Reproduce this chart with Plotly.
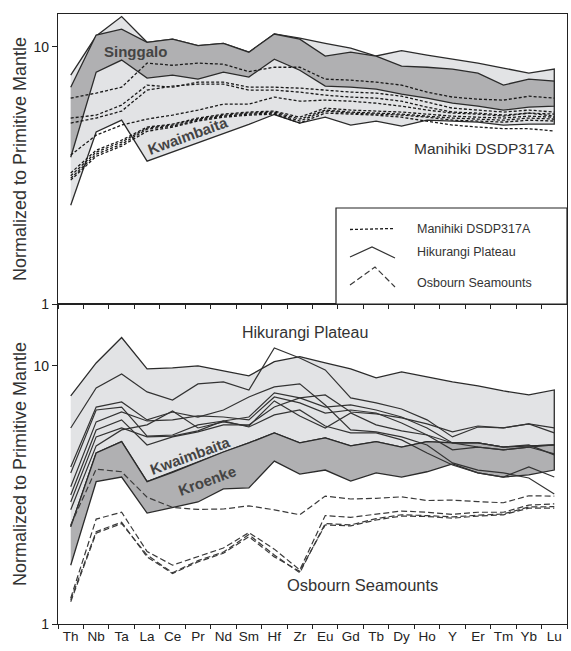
import plotly.graph_objects as go

elements = ["Th", "Nb", "Ta", "La", "Ce", "Pr", "Nd", "Sm", "Hf", "Zr",
            "Eu", "Gd", "Tb", "Dy", "Ho", "Y", "Er", "Tm", "Yb", "Lu"]

# ---------------- top panel (Manihiki) ----------------
top_field_upper = [7.75, 11.0, 13.1, 10.4, 10.7, 10.1, 10.3, 9.52, 11.2, 10.8,
                   10.3, 9.87, 9.2, 9.65, 9.27, 8.94, 8.63, 8.26, 7.89, 8.18]
top_field_lower = [2.42, 4.66, 5.18, 3.59, 3.90, 4.23, 4.59, 4.99, 5.45, 5.05,
                   5.32, 4.96, 5.14, 4.91, 5.18, 5.14, 5.09, 4.96, 5.0, 5.0]
singgalo_upper = [6.96, 11.1, 11.7, 10.4, 10.7, 10.1, 10.3, 9.52, 11.2, 10.7,
                  9.19, 9.52, 9.19, 8.40, 8.32, 8.18, 7.89, 7.09, 7.48, 7.35]
singgalo_lower = [3.72, 7.96, 8.87, 7.55, 7.75, 7.48, 7.96, 7.62, 8.94, 8.1,
                  7.03, 6.96, 6.84, 6.54, 6.31, 6.03, 5.87, 5.67, 5.82, 5.87]

manihiki_1 = [6.31, 6.60, 6.96, 8.63, 8.47, 8.63, 8.55, 8.0, 8.32, 8.32,
              7.48, 7.41, 7.28, 7.09, 6.66, 6.37, 6.25, 6.20, 6.42, 6.31]
manihiki_2 = [5.28, 5.42, 5.93, 7.09, 6.96, 7.28, 7.28, 6.96, 6.96, 6.90,
              6.78, 6.66, 6.60, 6.42, 6.09, 5.77, 5.67, 5.57, 5.67, 5.57]
manihiki_3 = [5.05, 5.28, 5.62, 6.78, 7.03, 7.15, 7.15, 6.78, 6.78, 6.66,
              6.48, 6.37, 6.31, 6.14, 5.82, 5.57, 5.52, 5.42, 5.52, 5.37]
manihiki_4 = [3.79, 4.53, 4.96, 5.23, 5.42, 5.67, 5.98, 5.98, 6.37, 6.14,
              6.20, 6.14, 6.03, 5.87, 5.67, 5.52, 5.47, 5.37, 5.52, 5.47]
manihiki_5 = [3.23, 3.96, 4.33, 4.87, 5.0, 5.28, 5.47, 5.57, 5.62, 5.32,
              5.77, 5.67, 5.62, 5.57, 5.47, 5.37, 5.32, 5.28, 5.37, 5.32]
manihiki_6 = [3.15, 3.89, 4.26, 4.83, 4.96, 5.23, 5.42, 5.52, 5.57, 5.23,
              5.67, 5.57, 5.52, 5.47, 5.37, 5.28, 5.23, 5.18, 5.28, 5.23]
manihiki_7 = [3.08, 3.82, 4.18, 4.78, 4.91, 5.18, 5.37, 5.47, 5.52, 5.14,
              5.62, 5.52, 5.47, 5.42, 5.32, 5.18, 5.14, 5.09, 5.18, 5.14]
manihiki_8 = [3.03, 3.75, 4.11, 4.69, 4.87, 5.14, 5.32, 5.42, 5.47, 5.05,
              5.52, 5.47, 5.42, 5.32, 5.14, 4.96, 4.87, 4.80, 4.80, 4.70]

# ---------------- bottom panel (Hikurangi / Osbourn) ----------------
bot_field_upper = [7.65, 10.27, 12.88, 9.74, 9.82, 10.0, 9.56, 9.15, 10.39, 10.87,
                   10.27, 9.74, 8.99, 9.48, 9.07, 8.67, 8.37, 8.0, 7.72, 8.07]
kwaimbaita_line = [2.38, 4.60, 5.09, 3.56, 3.87, 4.24, 4.64, 5.03, 5.50, 5.03,
                   5.26, 4.90, 5.09, 4.85, 5.09, 5.03, 5.03, 4.85, 4.90, 4.94]
kroenke_lower = [1.69, 3.56, 3.71, 2.69, 2.82, 2.97, 3.34, 3.37, 4.28, 3.81,
                 3.95, 3.58, 3.85, 3.71, 3.89, 4.17, 3.85, 3.71, 3.78, 3.95]

hikurangi_1 = [4.06, 6.93, 7.25, 6.18, 6.63, 6.34, 6.75, 7.58, 8.29, 8.52,
               7.06, 5.65, 5.55, 5.31, 4.94, 4.21, 3.95, 3.85, 3.68, 3.19]
hikurangi_2 = [5.75, 8.22, 9.31, 7.93, 7.38, 8.52, 8.67, 8.07, 11.74, 10.74,
               9.65, 7.52, 7.19, 6.81, 6.18, 5.31, 5.80, 5.75, 5.96, 5.50]
hikurangi_3 = [3.85, 6.75, 6.93, 5.35, 5.40, 5.91, 6.12, 6.34, 7.86, 7.52,
               6.93, 7.06, 6.75, 6.34, 5.75, 5.03, 5.03, 4.85, 4.94, 4.52]
hikurangi_4 = [3.40, 6.07, 6.63, 6.12, 6.18, 6.40, 6.34, 6.18, 7.58, 7.19,
               6.57, 6.75, 6.57, 6.01, 5.40, 4.73, 4.85, 4.73, 4.85, 4.56]
hikurangi_5 = [3.16, 5.65, 6.18, 4.94, 5.31, 5.55, 5.91, 5.91, 6.93, 7.52,
               7.72, 6.63, 6.52, 6.29, 5.96, 5.55, 5.85, 5.75, 5.96, 5.75]
hikurangi_6 = [2.97, 5.31, 5.75, 5.31, 5.35, 5.60, 6.12, 5.80, 6.46, 6.75,
               5.85, 5.50, 5.50, 5.17, 4.60, 4.13, 3.85, 3.71, 4.06, 3.71]
hikurangi_7 = [2.77, 4.90, 5.65, 5.91, 6.69, 5.75, 6.07, 5.85, 7.32, 6.40,
               5.75, 6.57, 5.91, 5.60, 5.40, 5.03, 4.85, 4.73, 4.85, 4.94]

osbourn_1 = [2.42, 3.98, 3.89, 3.10, 2.83, 2.78, 2.79, 2.87, 2.77, 2.65,
             3.13, 3.05, 3.07, 3.11, 3.01, 3.02, 2.98, 2.95, 3.14, 3.13]
osbourn_2 = [1.26, 2.55, 2.71, 1.91, 1.69, 1.82, 1.97, 2.26, 1.95, 1.62,
             2.63, 2.59, 2.67, 2.74, 2.71, 2.66, 2.71, 2.71, 2.89, 2.92]
osbourn_3 = [1.24, 2.28, 2.48, 1.82, 1.57, 1.74, 1.88, 2.18, 1.82, 1.60,
             2.42, 2.40, 2.53, 2.62, 2.61, 2.57, 2.62, 2.65, 2.81, 2.81]
osbourn_4 = [1.22, 2.25, 2.45, 1.85, 1.58, 1.76, 1.90, 2.22, 1.85, 1.58,
             2.45, 2.42, 2.56, 2.65, 2.63, 2.60, 2.64, 2.67, 2.84, 2.85]

y_ticks = [1, 10]
y_title = "Normalized to Primitive Mantle"

LIGHT = "#e2e3e5"
DARK = "#b0b0b2"
LINE = "#2b2b2b"
FONT = "Liberation Sans, Arial, sans-serif"

fig = go.Figure()


def field(upper, lower, color, xa, ya):
    fig.add_trace(go.Scatter(
        x=elements + elements[::-1], y=upper + lower[::-1],
        mode="lines", fill="toself", fillcolor=color,
        line=dict(color=LINE, width=1.3), xaxis=xa, yaxis=ya,
        hoverinfo="skip", showlegend=False))


def line(vals, dash, xa, ya, width=1.2, color=LINE):
    fig.add_trace(go.Scatter(
        x=elements, y=vals, mode="lines",
        line=dict(color=color, width=width, dash=dash),
        xaxis=xa, yaxis=ya, showlegend=False))


# top panel
field(top_field_upper, top_field_lower, LIGHT, "x", "y")
field(singgalo_upper, singgalo_lower, DARK, "x", "y")
for m in [manihiki_1, manihiki_2, manihiki_3, manihiki_4,
          manihiki_5, manihiki_6, manihiki_7, manihiki_8]:
    line(m, "3px,2px", "x", "y", width=1.3, color="#1a1a1a")

# bottom panel
field(bot_field_upper, kwaimbaita_line, LIGHT, "x2", "y2")
field(kwaimbaita_line, kroenke_lower, DARK, "x2", "y2")
for h in [hikurangi_1, hikurangi_2, hikurangi_3, hikurangi_4,
          hikurangi_5, hikurangi_6, hikurangi_7]:
    line(h, "solid", "x2", "y2", width=1.2, color="#333333")
for o in [osbourn_1, osbourn_2, osbourn_3, osbourn_4]:
    line(o, "6px,3px", "x2", "y2", width=1.2, color="#3a3a3a")

split = 320 / 610.0

xaxis_common = dict(
    type="category", categoryorder="array", categoryarray=elements,
    range=[-0.5, 19.5], tickson="boundaries", ticks="outside", ticklen=4,
    tickwidth=1.2, tickcolor="#222", showline=True, linecolor="#222",
    linewidth=1.4, mirror=True, showgrid=False, zeroline=False,
    tickangle=0,
    tickfont=dict(family=FONT, size=13.5, color="#222"))
yaxis_common = dict(
    type="log", tickvals=y_ticks, ticktext=[str(t) for t in y_ticks],
    ticks="outside", ticklen=5, tickwidth=1.2, tickcolor="#222",
    showline=True, linecolor="#222", linewidth=1.4, mirror=True,
    showgrid=False, zeroline=False,
    tickfont=dict(family=FONT, size=14, color="#222"))

fig.update_layout(
    width=571, height=651,
    margin=dict(l=58, r=4, t=14, b=27),
    paper_bgcolor="white", plot_bgcolor="white",
    xaxis=dict(xaxis_common, anchor="y", showticklabels=False),
    yaxis=dict(yaxis_common, domain=[split, 1], range=[0, 1.127], anchor="x"),
    xaxis2=dict(xaxis_common, anchor="y2"),
    yaxis2=dict(yaxis_common, domain=[0, split], range=[0, 1.240], anchor="x2"),
    font=dict(family=FONT),
)


def px_x(px):
    return (px - 58) / 509.0


def px_y(py):
    return (624 - py) / 610.0


ann = []


def text(s, cx, cy, size, bold=False, angle=0, color="#333", xanchor="center"):
    ann.append(dict(
        text=("<b>%s</b>" % s) if bold else s, x=px_x(cx), y=px_y(cy),
        xref="paper", yref="paper", showarrow=False, textangle=angle,
        xanchor=xanchor, yanchor="middle",
        font=dict(family=FONT, size=size, color=color)))


text(y_title, 20, 159, 18, angle=-90, color="#333")
text(y_title, 20, 464, 18, angle=-90, color="#333")
text("Singgalo", 135, 51, 15, bold=True, color="#444")
text("Kwaimbaita", 188, 136, 15, bold=True, angle=-20, color="#444")
text("Manihiki DSDP317A", 484, 148, 15.5, color="#333")
text("Hikurangi Plateau", 305, 333, 16, color="#333")
text("Kwaimbaita", 190, 455, 15, bold=True, angle=-20, color="#444")
text("Kroenke", 207, 480, 15, bold=True, angle=-20, color="#444")
text("Osbourn Seamounts", 362, 585, 16.5, color="#333")

# legend box (top panel, lower right)
text("Manihiki DSDP317A", 415, 229, 12.5, color="#333", xanchor="left")
text("Hikurangi Plateau", 415, 252, 12.5, color="#333", xanchor="left")
text("Osbourn Seamounts", 415, 283, 12.5, color="#333", xanchor="left")
fig.update_layout(annotations=ann)


def p(px, py):
    return "%f,%f" % (px_x(px), px_y(py))


shapes = [
    dict(type="rect", xref="paper", yref="paper",
         x0=px_x(336), x1=1, y0=px_y(304), y1=px_y(208),
         line=dict(color="#222", width=1.2), fillcolor="white"),
    dict(type="path", xref="paper", yref="paper",
         path="M %s L %s" % (p(350, 229.5), p(395, 228.5)),
         line=dict(color="#1a1a1a", width=1.3, dash="3px,2px")),
    dict(type="path", xref="paper", yref="paper",
         path="M %s L %s L %s" % (p(350, 257), p(372, 247), p(395, 258)),
         line=dict(color="#333", width=1.2)),
    dict(type="path", xref="paper", yref="paper",
         path="M %s L %s L %s" % (p(350, 285), p(375, 267), p(395, 287)),
         line=dict(color="#3a3a3a", width=1.2, dash="6px,3px")),
]
fig.update_layout(shapes=shapes)

fig.write_html("out.html",
               config={"displayModeBar": False},
               post_script="document.body.style.margin='0px';"
                           "document.body.style.padding='0px';")
